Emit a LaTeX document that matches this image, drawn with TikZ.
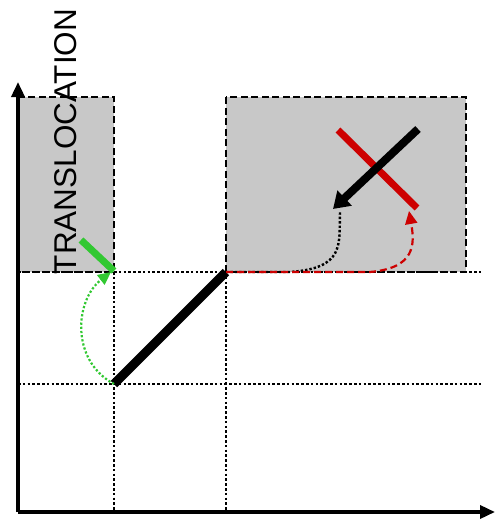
\documentclass[tikz,border=0pt]{standalone}
\usepackage{fontspec}
\setmainfont{Liberation Sans}
\usetikzlibrary{arrows.meta}
\definecolor{boxgrey}{RGB}{200,200,200}
\definecolor{tgreen}{RGB}{50,200,50}
\definecolor{tred}{RGB}{205,0,0}
\tikzset{
  axis/.style={line width=3.5pt,-{Triangle[length=15pt,width=13pt]}},
  greybox/.style={fill=boxgrey,draw=black,line width=2.6pt,dash pattern=on 7pt off 3.5pt},
  gridline/.style={line width=2.6pt,dash pattern=on 2.6pt off 2.2pt},
  thickbar/.style={line width=9pt},
  colbar/.style={line width=7pt},
}
\begin{document}
\begin{tikzpicture}[x=1pt,y=-1pt]
\useasboundingbox (0,0) rectangle (495,520);
% key coordinates
\coordinate (O) at (18,512);
\coordinate (ytip) at (18,82);
\coordinate (xtip) at (495,512);
\coordinate (A) at (114,384);
\coordinate (B) at (226,272);
\coordinate (lbx) at (114,272);
% grey boxes
\path[greybox] (18,97) rectangle (114,272);
\path[greybox] (226,97) rectangle (466,272);
% grid lines
\draw[gridline] (18,272) -- (482,272);
\draw[gridline] (18,384) -- (482,384);
\draw[gridline] (lbx) -- (114,512);
\draw[gridline] (B) -- (226,512);
% axes
\draw[axis] (O) -- (ytip);
\draw[axis] (O) -- (xtip);
% label
\node[rotate=90,inner sep=0pt,font=\fontsize{31.5}{31.5}\selectfont] (lab) at (66,141.5) {TRANSLOCATION};
% main diagonal
\draw[thickbar] (A) -- (B);
% green bar
\coordinate (g1) at (81,240);
\coordinate (g2) at (114,271);
\draw[colbar,tgreen] (g1) -- (g2);
% green dotted arrow
\draw[tgreen,line width=2.2pt,dash pattern=on 2.2pt off 2pt,-{Triangle[length=13pt,width=12pt]}]
  (A) .. controls (70,360) and (75,300) .. (111,272);
% red bar
\coordinate (r1) at (338,130);
\coordinate (r2) at (417,208);
\draw[colbar,tred] (r1) -- (r2);
% black arrow
\coordinate (k1) at (418,129);
\coordinate (k2) at (333,209);
\draw[line width=8pt,-{Triangle[length=16pt,width=20pt]}] (k1) -- (k2);
% black dotted curve
\draw[line width=2.4pt,dash pattern=on 2.4pt off 2pt]
  (B) -- (290,272) .. controls (345,268) and (339,245) .. (340,212);
% red dashed arrow
\draw[tred,line width=2.2pt,dash pattern=on 7pt off 4pt,-{Triangle[length=13pt,width=12pt]}]
  (B) -- (370,272) .. controls (415,268) and (415,245) .. (409,211);
\end{tikzpicture}
\end{document}
